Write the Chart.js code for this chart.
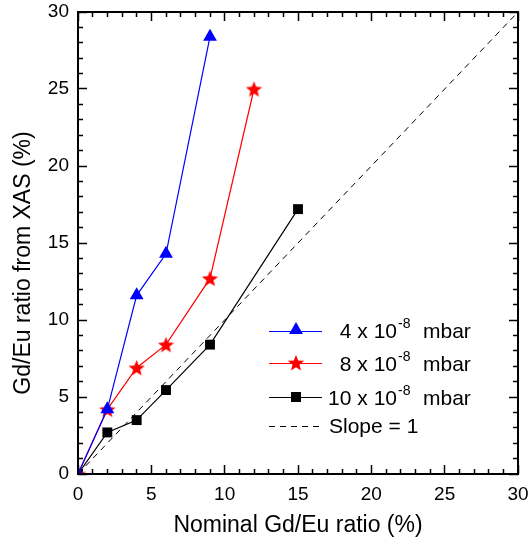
<!DOCTYPE html>
<html>
<head>
<meta charset="utf-8">
<script src="https://cdn.jsdelivr.net/npm/chart.js@4.4.1/dist/chart.umd.min.js"></script>
<style>
  html, body { margin: 0; padding: 0; background: #fff; }
  #wrap { width: 529px; height: 543px; }
</style>
</head>
<body>
<div id="wrap"><canvas id="ratioChart" width="529" height="543"></canvas></div>
<script>
// ---- data ----
const nominal4 = [0, 2, 4, 6, 9];
const xas4 = [0, 4.2, 11.6, 14.3, 28.4];

const nominal8 = [0, 2, 4, 6, 9, 12];
const xas8 = [0, 4.2, 6.9, 8.4, 12.7, 25.0];

const nominal10 = [0, 2, 4, 6, 9, 15];
const xas10 = [0, 2.7, 3.5, 5.45, 8.4, 17.2];

const slopeX = [0, 30];
const slopeY = [0, 30];

const legendLabels = [
    { pre: '4 x 10', sup: '-8', post: 'mbar' },
    { pre: '8 x 10', sup: '-8', post: 'mbar' },
    { pre: '10 x 10', sup: '-8', post: 'mbar' },
    { pre: 'Slope = 1', sup: '', post: '' }
];

const yTitle = 'Gd/Eu ratio from XAS (%)';

const FONT = '"Liberation Sans", Arial, sans-serif';

function toPoints(xs, ys) {
    return xs.map((x, i) => ({ x: x, y: ys[i] }));
}

// filled five point star, used as an image marker
function drawStar(g, cx, cy, ro, ri, color) {
    g.beginPath();
    for (let i = 0; i < 10; i++) {
        const r = i % 2 === 0 ? ro : ri;
        const a = -Math.PI / 2 + i * Math.PI / 5;
        const px = cx + r * Math.cos(a), py = cy + r * Math.sin(a);
        if (i === 0) g.moveTo(px, py); else g.lineTo(px, py);
    }
    g.closePath();
    g.fillStyle = color;
    g.fill();
}

function makeStar(size, color) {
    const c = document.createElement('canvas');
    c.width = size; c.height = size;
    drawStar(c.getContext('2d'), size / 2, size / 2 + 0.8, size / 2, size / 4.6, color);
    return c;
}

function drawTriangle(g, cx, cy, r, color) {
    g.beginPath();
    g.moveTo(cx, cy - r);
    g.lineTo(cx + r * 0.866, cy + r * 0.5);
    g.lineTo(cx - r * 0.866, cy + r * 0.5);
    g.closePath();
    g.fillStyle = color;
    g.fill();
}

const starImg = makeStar(17, '#ff0000');

// keep the frame at a fixed place, no room for end labels
function noLabelPadding(s) {
    s.paddingTop = 0; s.paddingBottom = 0;
    s.paddingLeft = 0; s.paddingRight = 0;
}

// inward ticks: negative tick length, minor ones cut short with a dash
// fromAxis: the tick line starts at the axis (bottom, right) or inside (left, top)
function tickGrid(fromAxis) {
    return {
        display: true,
        drawOnChartArea: false,
        drawTicks: true,
        tickLength: -9,
        tickWidth: 1.5,
        tickColor: '#000000',
        tickBorderDash: (c) => {
            const v = c.tick ? c.tick.value : 0;
            if (v % 5 === 0) return [];
            return fromAxis ? [5, 100] : [0, 4, 5, 100];
        }
    };
}

const tickLabel = (v) => (v % 5 === 0 ? String(v) : '');

// legend inside the plot, superscripts by hand, plus the box and y title
const decorPlugin = {
    id: 'decor',
    afterDraw(chart) {
        const g = chart.ctx;
        const a = chart.chartArea;
        const lineY = [331, 363, 397, 426];
        const baseY = [338, 371, 405, 433];
        const colors = ['#0000ff', '#ff0000', '#000000', '#000000'];
        const x0 = 269, x1 = 322, xm = 296;
        g.save();
        g.strokeStyle = '#000000';
        g.lineWidth = 2;
        g.strokeRect(a.left, a.top, a.right - a.left, a.bottom - a.top);

        lineY.forEach((y, i) => {
            g.strokeStyle = colors[i];
            g.lineWidth = 1.2;
            g.setLineDash(i === 3 ? [6, 5] : []);
            g.beginPath();
            g.moveTo(x0, y + 0.5); g.lineTo(x1, y + 0.5);
            g.stroke();
            g.setLineDash([]);
            if (i === 0) drawTriangle(g, xm, y - 1, 8, colors[0]);
            if (i === 1) drawStar(g, xm, y + 0.5, 8.5, 3.7, colors[1]);
            if (i === 2) { g.fillStyle = '#000'; g.fillRect(xm - 5, y - 5, 10, 10); }

            const lab = legendLabels[i];
            const by = baseY[i];
            g.fillStyle = '#000';
            g.textBaseline = 'alphabetic';
            g.font = '21px ' + FONT;
            if (lab.sup) {
                g.textAlign = 'right';
                g.fillText(lab.pre, 397, by);
                g.textAlign = 'left';
                g.font = '14px ' + FONT;
                g.fillText(lab.sup, 398, by - 10);
                g.font = '21px ' + FONT;
                g.fillText(lab.post, 423, by);
            } else {
                g.textAlign = 'left';
                g.fillText(lab.pre, 329, by);
            }
        });

        // y title sits a bit below the middle in the original
        g.translate(24, 263);
        g.rotate(-Math.PI / 2);
        g.textAlign = 'center';
        g.textBaseline = 'middle';
        g.font = '23px ' + FONT;
        g.fillText(yTitle, 0, 0);
        g.restore();
    }
};

const ctx = document.getElementById('ratioChart').getContext('2d');

const axisTicks = {
    stepSize: 1,
    maxTicksLimit: 31,
    autoSkip: false,
    minRotation: 0,
    maxRotation: 0,
    color: '#000',
    font: { family: FONT, size: 19 },
    callback: tickLabel
};

new Chart(ctx, {
    type: 'line',
    data: {
        datasets: [
            {
                label: '4 x 10-8 mbar',
                data: toPoints(nominal4, xas4),
                borderColor: '#0000ff',
                backgroundColor: '#0000ff',
                borderWidth: 1.2,
                pointStyle: 'triangle',
                pointRadius: 8,
                pointBorderWidth: 0
            },
            {
                label: '8 x 10-8 mbar',
                data: toPoints(nominal8, xas8),
                borderColor: '#ff0000',
                backgroundColor: '#ff0000',
                borderWidth: 1.2,
                pointStyle: starImg,
                pointRadius: 8
            },
            {
                label: '10 x 10-8 mbar',
                data: toPoints(nominal10, xas10),
                borderColor: '#000000',
                backgroundColor: '#000000',
                borderWidth: 1.2,
                pointStyle: 'rect',
                pointRadius: 7,
                pointBorderWidth: 0
            },
            {
                label: 'Slope = 1',
                data: toPoints(slopeX, slopeY),
                borderColor: '#000000',
                borderWidth: 1,
                borderDash: [6, 5],
                pointRadius: 0
            }
        ]
    },
    options: {
        responsive: false,
        animation: false,
        events: [],
        layout: { padding: { top: 12, right: 11, left: 0, bottom: 0 } },
        plugins: { legend: { display: false }, tooltip: { enabled: false } },
        scales: {
            x: {
                type: 'linear',
                position: 'bottom',
                min: 0, max: 30,
                afterFit: (s) => { s.height = 69; noLabelPadding(s); },
                grid: tickGrid(true),
                border: { display: false },
                ticks: Object.assign({}, axisTicks, { padding: 18 }),
                title: {
                    display: true,
                    text: 'Nominal Gd/Eu ratio (%)',
                    color: '#000',
                    font: { family: FONT, size: 23 },
                    padding: { top: 0, bottom: 4 }
                }
            },
            y: {
                type: 'linear',
                position: 'left',
                min: 0, max: 30,
                afterFit: (s) => { s.width = 78; noLabelPadding(s); },
                grid: tickGrid(false),
                border: { display: false },
                ticks: Object.assign({}, axisTicks, { padding: 18 })
            },
            xTop: {
                type: 'linear',
                position: 'top',
                min: 0, max: 30,
                afterFit: (s) => { s.height = 0; noLabelPadding(s); },
                grid: tickGrid(false),
                border: { display: false },
                ticks: Object.assign({}, axisTicks, { display: false })
            },
            yRight: {
                type: 'linear',
                position: 'right',
                min: 0, max: 30,
                afterFit: (s) => { s.width = 0; noLabelPadding(s); },
                grid: tickGrid(true),
                border: { display: false },
                ticks: Object.assign({}, axisTicks, { display: false })
            }
        }
    },
    plugins: [decorPlugin]
});
</script>
</body>
</html>
